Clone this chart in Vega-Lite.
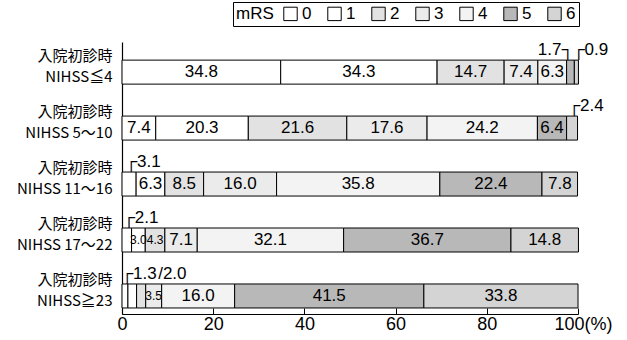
{
  "$schema": "https://vega.github.io/schema/vega-lite/v6.json",
  "autosize": {"type": "none"},
  "width": 456,
  "height": 272,
  "padding": {"left": 122, "top": 42, "right": 49, "bottom": 26},
  "background": "white",
  "config": {"view": {"stroke": null}, "font": "Liberation Sans"},
  "data": {"values": [
    {"grp": "NIHSS≦4", "mRS": 0, "v": 34.8}, {"grp": "NIHSS≦4", "mRS": 1, "v": 34.3}, {"grp": "NIHSS≦4", "mRS": 2, "v": 14.7}, {"grp": "NIHSS≦4", "mRS": 3, "v": 7.4}, {"grp": "NIHSS≦4", "mRS": 4, "v": 6.3}, {"grp": "NIHSS≦4", "mRS": 5, "v": 1.7}, {"grp": "NIHSS≦4", "mRS": 6, "v": 0.9},
    {"grp": "NIHSS 5〜10", "mRS": 0, "v": 7.4}, {"grp": "NIHSS 5〜10", "mRS": 1, "v": 20.3}, {"grp": "NIHSS 5〜10", "mRS": 2, "v": 21.6}, {"grp": "NIHSS 5〜10", "mRS": 3, "v": 17.6}, {"grp": "NIHSS 5〜10", "mRS": 4, "v": 24.2}, {"grp": "NIHSS 5〜10", "mRS": 5, "v": 6.4}, {"grp": "NIHSS 5〜10", "mRS": 6, "v": 2.4},
    {"grp": "NIHSS 11〜16", "mRS": 0, "v": 3.1}, {"grp": "NIHSS 11〜16", "mRS": 1, "v": 6.3}, {"grp": "NIHSS 11〜16", "mRS": 2, "v": 8.5}, {"grp": "NIHSS 11〜16", "mRS": 3, "v": 16.0}, {"grp": "NIHSS 11〜16", "mRS": 4, "v": 35.8}, {"grp": "NIHSS 11〜16", "mRS": 5, "v": 22.4}, {"grp": "NIHSS 11〜16", "mRS": 6, "v": 7.8},
    {"grp": "NIHSS 17〜22", "mRS": 0, "v": 2.1}, {"grp": "NIHSS 17〜22", "mRS": 1, "v": 3.0}, {"grp": "NIHSS 17〜22", "mRS": 2, "v": 4.3}, {"grp": "NIHSS 17〜22", "mRS": 3, "v": 7.1}, {"grp": "NIHSS 17〜22", "mRS": 4, "v": 32.1}, {"grp": "NIHSS 17〜22", "mRS": 5, "v": 36.7}, {"grp": "NIHSS 17〜22", "mRS": 6, "v": 14.8},
    {"grp": "NIHSS≧23", "mRS": 0, "v": 1.3}, {"grp": "NIHSS≧23", "mRS": 1, "v": 1.9}, {"grp": "NIHSS≧23", "mRS": 2, "v": 2.0}, {"grp": "NIHSS≧23", "mRS": 3, "v": 3.5}, {"grp": "NIHSS≧23", "mRS": 4, "v": 16.0}, {"grp": "NIHSS≧23", "mRS": 5, "v": 41.5}, {"grp": "NIHSS≧23", "mRS": 6, "v": 33.8}
  ]},
  "transform": [
    {"stack": "v", "groupby": ["grp"], "sort": [{"field": "mRS", "order": "ascending"}], "as": ["x0", "x1"]},
    {"calculate": "(datum.x0 + datum.x1) / 2", "as": "mid"},
    {"calculate": "format(datum.v, '.1f')", "as": "lab"}
  ],
  "encoding": {
    "y": {
      "field": "grp", "type": "nominal", "sort": null,
      "scale": {"paddingInner": 0.5, "paddingOuter": 0.18, "align": 0.8},
      "axis": {
        "title": null, "ticks": false, "domainColor": "black", "domainWidth": 1.2,
        "labelExpr": "['入院初診時', datum.label]",
        "labelFont": "Noto Sans CJK JP", "labelFontSize": 15, "labelLineHeight": 21,
        "labelColor": "black", "labelPadding": 10, "labelOffset": -16
      }
    }
  },
  "layer": [
    {
      "mark": {"type": "bar", "size": 24, "stroke": "black", "strokeWidth": 1},
      "encoding": {
        "x": {
          "field": "x0", "type": "quantitative",
          "scale": {"domain": [0, 100], "nice": false},
          "axis": {
            "title": null, "values": [0, 20, 40, 60, 80, 100], "grid": false,
            "domainColor": "black", "domainWidth": 1.2, "tickColor": "black", "tickSize": -6,
            "labelFontSize": 18, "labelColor": "black", "labelPadding": 7,
            "labelExpr": "datum.value == 100 ? '100(%)' : datum.label",
            "labelAlign": {"condition": {"test": "datum.value == 100", "value": "left"}, "value": "center"},
            "labelOffset": {"condition": {"test": "datum.value == 100", "value": -24}, "value": 0}
          }
        },
        "x2": {"field": "x1"},
        "fill": {
          "field": "mRS", "type": "nominal",
          "scale": {"domain": [0, 1, 2, 3, 4, 5, 6], "range": ["#ffffff", "#ffffff", "#e2e2e2", "#ebebeb", "#f3f3f3", "#b8b8b8", "#d4d4d4"]},
          "legend": {
            "orient": "none", "legendX": 111, "legendY": -40, "direction": "horizontal", "columns": 7,
            "title": "mRS", "titleOrient": "left", "titleFontSize": 17, "titleFontWeight": "normal", "titleColor": "black", "titlePadding": 8, "titleFont": "Liberation Sans",
            "symbolType": "square", "symbolSize": 180, "symbolStrokeColor": "black", "symbolStrokeWidth": 1,
            "labelFontSize": 17, "labelColor": "black", "labelOffset": 3, "columnPadding": 13,
            "strokeColor": "black", "padding": 3, "gridAlign": "all"
          }
        }
      }
    },
    {
      "transform": [{"filter": "datum.v >= 3 && !(datum.grp == 'NIHSS 11〜16' && datum.mRS == 0)"}],
      "mark": {"type": "text", "color": "black", "baseline": "middle", "align": "center"},
      "encoding": {
        "x": {"field": "mid", "type": "quantitative"},
        "text": {"field": "lab"},
        "size": {"condition": {"test": "datum.v < 5", "value": 12}, "value": 17}
      }
    },
    {
      "transform": [
        {"filter": "datum.v < 3.2 && datum.mRS != 5 && datum.mRS != 1 && !(datum.grp == 'NIHSS≧23' && datum.mRS == 2)"},
        {"calculate": "'┌' + datum.lab", "as": "olab"}
      ],
      "mark": {"type": "text", "color": "black", "baseline": "middle", "align": "left", "fontSize": 17, "dx": -4, "dy": -22},
      "encoding": {
        "x": {"field": "mid", "type": "quantitative"},
        "text": {"field": "olab"}
      }
    },
    {
      "transform": [
        {"filter": "datum.grp == 'NIHSS≧23' && datum.mRS == 2"},
        {"calculate": "'/' + datum.lab", "as": "olab"}
      ],
      "mark": {"type": "text", "color": "black", "baseline": "middle", "align": "left", "fontSize": 17, "dx": 17, "dy": -22},
      "encoding": {
        "x": {"field": "mid", "type": "quantitative"},
        "text": {"field": "olab"}
      }
    },
    {
      "transform": [
        {"filter": "datum.v < 3.2 && datum.mRS == 5"},
        {"calculate": "datum.lab + '┐'", "as": "olab"}
      ],
      "mark": {"type": "text", "color": "black", "baseline": "middle", "align": "right", "fontSize": 17, "dx": 3, "dy": -22},
      "encoding": {
        "x": {"field": "mid", "type": "quantitative"},
        "text": {"field": "olab"}
      }
    }
  ]
}
